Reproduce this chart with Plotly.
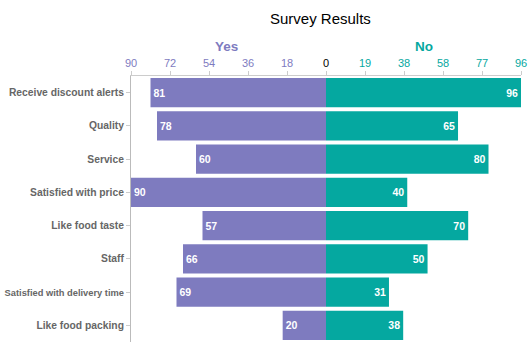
import plotly.graph_objects as go

categories = ["Receive discount alerts", "Quality", "Service", "Satisfied with price",
              "Like food taste", "Staff", "Satisfied with delivery time", "Like food packing"]
yes_values = [81, 78, 60, 90, 57, 66, 69, 20]
no_values = [96, 65, 80, 40, 70, 50, 31, 38]
yes_ticks = [90, 72, 54, 36, 18]
no_ticks = [0, 19.2, 38.4, 57.6, 76.8, 96]
no_tick_labels = ["<span style='color:#000'>0</span>", "19", "38", "58", "77", "96"]

PURPLE = "#7e7bbf"
TEAL = "#05a8a0"
W, H = 532, 355

def px(x):
    return x / W

def py(y):
    return 1 - y / H

cat_text = [c if len(c) < 25 else "<span style='font-size:9.3px'>" + c + "</span>" for c in categories]

fig = go.Figure()
fig.add_trace(go.Bar(
    y=categories, x=yes_values, orientation="h", marker=dict(color=PURPLE, line=dict(width=0)),
    text=[str(v) for v in yes_values], textposition="inside", insidetextanchor="end",
    textfont=dict(color="white", size=10.5, family="Liberation Sans, Arial", weight="bold"),
    xaxis="x", yaxis="y", name="Yes", showlegend=False, cliponaxis=False,
))
fig.add_trace(go.Bar(
    y=categories, x=no_values, orientation="h", marker=dict(color=TEAL, line=dict(width=0)),
    text=[str(v) for v in no_values], textposition="inside", insidetextanchor="end",
    textfont=dict(color="white", size=10.5, family="Liberation Sans, Arial", weight="bold"),
    xaxis="x2", yaxis="y2", name="No", showlegend=False, cliponaxis=False,
))

common_x = dict(side="top", showgrid=False, zeroline=False, showline=True, linecolor="#ccc",
                linewidth=1, ticks="outside", ticklen=4, tickcolor="#ccc", fixedrange=True)

fig.update_layout(
    width=W, height=H,
    margin=dict(l=0, r=0, t=0, b=0, autoexpand=False),
    plot_bgcolor="white", paper_bgcolor="white",
    bargap=0.12,
    font=dict(family="Liberation Sans, Arial", size=11, color="#666"),
    xaxis=dict(domain=[px(131), px(326)], range=[90, 0], tickvals=yes_ticks,
               ticktext=[str(v) for v in yes_ticks],
               tickfont=dict(color=PURPLE, size=11), anchor="y", **common_x),
    xaxis2=dict(domain=[px(326), px(521)], range=[0, 96], tickvals=no_ticks,
                ticktext=no_tick_labels,
                tickfont=dict(color=TEAL, size=11), anchor="y2", **common_x),
    yaxis=dict(domain=[py(342), py(76)], autorange="reversed", showline=True, linecolor="#bbb",
               ticks="outside", ticklen=4, tickcolor="#ccc", showgrid=False,
               tickvals=categories, ticktext=cat_text, fixedrange=True,
               tickfont=dict(color="#666", size=10.3, weight="bold"), anchor="x"),
    yaxis2=dict(domain=[py(342), py(76)], autorange="reversed", showticklabels=False,
                showgrid=False, showline=False, anchor="x2", matches="y"),
    annotations=[
        dict(text="Survey Results", x=px(320), y=py(18), xref="paper", yref="paper",
             xanchor="center", yanchor="middle",
             showarrow=False, font=dict(size=15, color="#000")),
        dict(text="<b>Yes</b>", x=px(226), y=py(46), xref="paper", yref="paper",
             xanchor="center", yanchor="middle",
             showarrow=False, font=dict(size=13.5, color=PURPLE)),
        dict(text="<b>No</b>", x=px(424), y=py(46), xref="paper", yref="paper",
             xanchor="center", yanchor="middle",
             showarrow=False, font=dict(size=13.5, color=TEAL)),
    ],
)

fig.write_html("out.html", config={"displayModeBar": False},
               post_script="document.body.style.margin='0';")
